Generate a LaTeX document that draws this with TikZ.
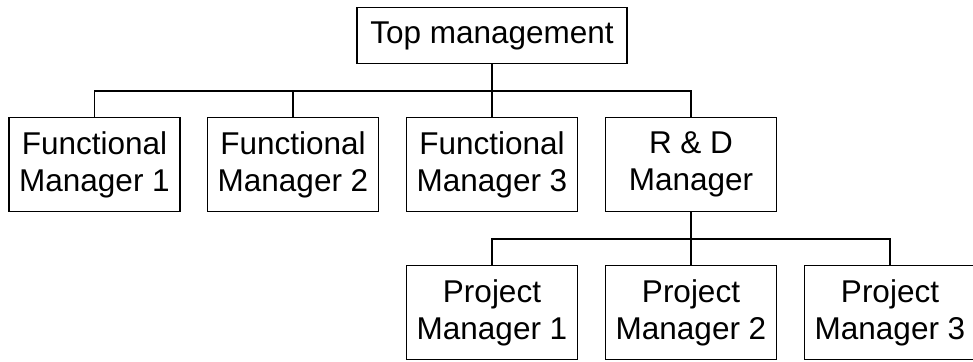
\documentclass[tikz,border=0pt]{standalone}
\usepackage{fontspec}
\setmainfont{Liberation Sans}

\tikzset{
  mgrbox/.style={draw, line width=1.3pt, minimum width=171pt, minimum height=94pt,
    align=center, inner sep=0pt, font=\fontsize{31.5}{37}\selectfont},
  topbox/.style={mgrbox, minimum width=270pt, minimum height=56pt},
  link/.style={line width=1.3pt}
}

\begin{document}
\begin{tikzpicture}[x=1pt, y=-1pt]

\useasboundingbox (0,0) rectangle (973,361);

% Top level
\node[topbox] (top) at (492,35.5) {Top management};

% Functional managers and R & D
\node[mgrbox] (fm1) at (94.5,164.5) {Functional\\Manager 1};
\node[mgrbox] (fm2) at (293,164.5) {Functional\\Manager 2};
\node[mgrbox] (fm3) at (492,164.5) {Functional\\Manager 3};
\node[mgrbox] (rd)  at (691,164.5) {R \& D\\Manager};

% Project managers
\node[mgrbox] (pm1) at (492,312.5) {Project\\Manager 1};
\node[mgrbox] (pm2) at (691,312.5) {Project\\Manager 2};
\node[mgrbox] (pm3) at (890,312.5) {Project\\Manager 3};

% Bus lines
\coordinate (busA) at (492,91);
\coordinate (busB) at (691,239);

% Connectors
\draw[link] (top.south) -- (fm3.north);
\draw[link] (fm1.north) |- (rd.north |- busA) -- (rd.north);
\draw[link] (fm2.north) -- (fm2.north |- busA);
\draw[link] (rd.south) -- (pm2.north);
\draw[link] (pm1.north) |- (pm3.north |- busB) -- (pm3.north);

\end{tikzpicture}
\end{document}
